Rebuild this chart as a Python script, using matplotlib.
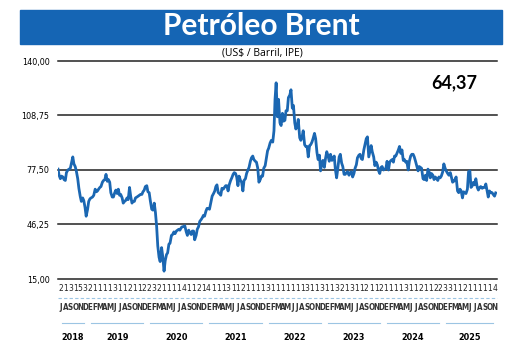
import matplotlib
matplotlib.use("Agg")
import matplotlib.pyplot as plt
from matplotlib.patches import Rectangle
import numpy as np
import pandas as pd

# --- DATOS (Brent, USD/barril, ~semanal: dias 1, 8, 16, 23 de cada mes) ---
dias = [1, 8, 16, 23]

brent_2018 = [  # jul - dic
    78.0, 74.5, 72.5, 74.0,
    73.5, 72.0, 71.5, 76.0,
    77.5, 78.0, 78.5, 81.5,
    85.0, 81.0, 79.5, 77.0,
    72.5, 67.0, 62.5, 59.5,
    61.5, 60.0, 56.0, 51.0,
]
brent_2019 = [
    55.0, 59.5, 61.0, 61.5,
    62.0, 63.0, 66.5, 65.0,
    65.5, 66.5, 67.5, 68.0,
    70.5, 71.5, 72.0, 75.0,
    71.0, 72.0, 70.5, 64.5,
    62.0, 62.0, 64.5, 66.0,
    64.0, 66.5, 63.0, 63.5,
    61.5, 58.5, 59.5, 60.0,
    61.5, 60.5, 67.5, 62.5,
    58.5, 59.5, 59.5, 61.5,
    62.0, 62.5, 63.0, 63.5,
    63.5, 65.0, 66.0, 68.0,
]
brent_2020 = [
    68.5, 65.0, 64.5, 60.0,
    55.0, 54.5, 58.5, 53.0,
    45.0, 34.0, 27.5, 25.0,
    33.0, 28.0, 19.5, 25.5,
    29.0, 30.0, 35.0, 35.5,
    40.0, 40.5, 42.0, 41.0,
    42.5, 43.0, 43.5, 43.0,
    44.5, 45.0, 45.0, 45.5,
    42.0, 40.0, 43.0, 41.5,
    40.5, 42.5, 42.5, 37.5,
    40.0, 43.5, 45.0, 48.0,
    49.0, 50.0, 51.5, 51.0,
]
brent_2021 = [
    54.0, 55.5, 55.5, 55.0,
    59.0, 62.5, 64.0, 65.5,
    68.0, 69.0, 64.5, 64.0,
    63.0, 67.0, 66.5, 67.5,
    68.5, 68.5, 65.5, 69.0,
    71.5, 73.0, 75.0, 76.0,
    75.5, 73.5, 68.5, 74.0,
    71.5, 70.5, 65.5, 71.5,
    72.5, 75.5, 77.5, 79.0,
    82.5, 84.5, 85.5, 83.5,
    82.5, 82.0, 78.5, 70.5,
    72.0, 74.0, 74.0, 78.5,
]
brent_2022 = [
    80.0, 84.0, 88.5, 90.0,
    93.0, 94.5, 93.5, 100.0,
    118.0, 127.5, 108.0, 118.0,
    104.5, 103.0, 110.0, 105.5,
    106.0, 111.5, 111.5, 119.0,
    120.5, 123.5, 113.0, 114.5,
    104.5, 101.0, 103.0, 106.5,
    96.0, 94.5, 96.5, 100.0,
    92.0, 91.0, 91.0, 85.0,
    91.5, 92.0, 93.5, 95.5,
    98.5, 95.5, 87.5, 83.5,
    86.0, 77.0, 81.0, 83.0,
]
brent_2023 = [
    79.0, 84.0, 88.0, 86.0,
    82.5, 86.5, 83.0, 84.0,
    85.5, 78.0, 73.0, 78.0,
    85.0, 86.5, 81.5, 79.5,
    75.0, 75.0, 76.0, 76.5,
    74.5, 76.0, 76.5, 73.5,
    75.5, 78.5, 80.5, 84.5,
    86.0, 86.5, 84.0, 83.5,
    89.0, 92.0, 95.5, 96.5,
    85.0, 88.0, 91.5, 88.0,
    85.0, 80.0, 82.0, 80.5,
    77.0, 75.5, 79.0, 79.5,
]
brent_2024 = [
    77.5, 78.0, 78.5, 82.5,
    77.5, 82.0, 83.0, 83.5,
    82.0, 85.5, 85.5, 87.0,
    89.0, 91.0, 87.0, 89.0,
    83.0, 83.5, 82.0, 82.5,
    77.5, 82.5, 85.5, 86.5,
    86.5, 85.0, 82.5, 80.0,
    77.0, 79.5, 79.0, 78.5,
    72.5, 72.0, 74.5, 71.5,
    78.0, 76.5, 73.0, 75.5,
    74.5, 72.0, 73.5, 72.5,
    71.5, 73.5, 73.0, 74.0,
]
brent_2025 = [  # ene - nov
    76.5, 81.0, 78.5, 77.0,
    75.5, 74.5, 76.0, 73.0,
    70.5, 71.0, 72.0, 73.5,
    65.5, 64.5, 66.5, 65.5,
    61.5, 65.0, 64.5, 64.0,
    66.5, 76.5, 77.0, 67.5,
    68.5, 70.5, 69.0, 72.5,
    67.5, 66.0, 67.5, 68.0,
    67.0, 67.5, 67.5, 69.5,
    65.5, 62.0, 65.5, 64.5,
    64.5, 63.5, 62.5, 64.37,
]

ultimo = "64,37"
y_ticks = [15.00, 46.25, 77.50, 108.75, 140.00]
iniciales = ['E', 'F', 'M', 'A', 'M', 'J', 'J', 'A', 'S', 'O', 'N', 'D']
anios = [2018, 2019, 2020, 2021, 2022, 2023, 2024, 2025]
digitos = list("21315321111311211223211114112141113112111131111111311311321311211211113112112233112111114")

# --- POSICIONES (en meses desde julio 2018) ---
valores = brent_2018 + brent_2019 + brent_2020 + brent_2021 + brent_2022 + brent_2023 + brent_2024 + brent_2025
meses = pd.period_range("2018-07", "2025-11", freq="M")
n_meses = len(meses)
xs = []
for i, p in enumerate(meses):
    for d in dias:
        xs.append(i + (d - 1) / p.days_in_month)
xs = np.array(xs[:len(valores)])

azul = '#1b67b2'

fig = plt.figure(figsize=(5.2, 3.55), dpi=100)

# Banner del titulo
fig.patches.append(Rectangle((20 / 520, 1 - 44 / 355), 482 / 520, 34 / 355,
                             transform=fig.transFigure, color='#1565b4', zorder=0))
fig.text(261 / 520, 1 - 26 / 355, "Petróleo Brent", ha='center', va='center',
         color='white', fontsize=21.5, fontweight='bold', family='Lato')
fig.text(262 / 520, 1 - 53 / 355, "(US$ / Barril, IPE)", ha='center', va='center',
         fontsize=7.5, family='Open Sans')

ax = fig.add_axes([58 / 520, 1 - 279 / 355, 439 / 520, 218 / 355])
ax.plot(xs, valores, color=azul, linewidth=2.0, zorder=3)
ax.set_xlim(0, n_meses)
ax.set_ylim(15, 140)
ax.set_yticks(y_ticks)
ax.set_yticklabels([f"{v:.2f}".replace('.', ',') for v in y_ticks], fontsize=6.5,
                   fontstretch='condensed')
ax.tick_params(axis='y', length=0, pad=6)
ax.set_xticks([])
for s in ax.spines.values():
    s.set_visible(False)
for v in y_ticks:
    ax.axhline(v, color='#222222', linewidth=1.1, zorder=1, clip_on=False)

ax.text(0.955, 0.9, ultimo, transform=ax.transAxes, ha='right', va='center',
        fontsize=13, fontweight='bold', family='Lato')

# Eje x: digitos, meses, anios
for i, p in enumerate(meses):
    xc = (i + 0.5) / n_meses
    ax.text(xc, -0.045, digitos[i], transform=ax.transAxes, ha='center', va='center',
            fontsize=6, fontstretch='condensed', color='#222222')
    ax.text(xc, -0.13, iniciales[p.month - 1], transform=ax.transAxes, ha='center', va='center',
            fontsize=5.8, fontstretch='condensed', fontweight='bold', color='#333333')

ax.plot([0, 1], [-0.087, -0.087], transform=ax.transAxes, color='#9cc5e3',
        linewidth=0.8, linestyle=(0, (3, 2)), clip_on=False)

for a in anios:
    idx = [i for i, p in enumerate(meses) if p.year == a]
    x0 = idx[0] / n_meses
    x1 = (idx[-1] + 1) / n_meses
    ax.plot([x0 + 0.008, x1 - 0.008], [-0.2, -0.2], transform=ax.transAxes,
            color='#9cc5e3', linewidth=0.8, clip_on=False)
    ax.text((x0 + x1) / 2, -0.27, str(a), transform=ax.transAxes, ha='center', va='center',
            fontsize=6.5, fontweight='bold', fontstretch='condensed')

fig.savefig("out.png", dpi=100)
